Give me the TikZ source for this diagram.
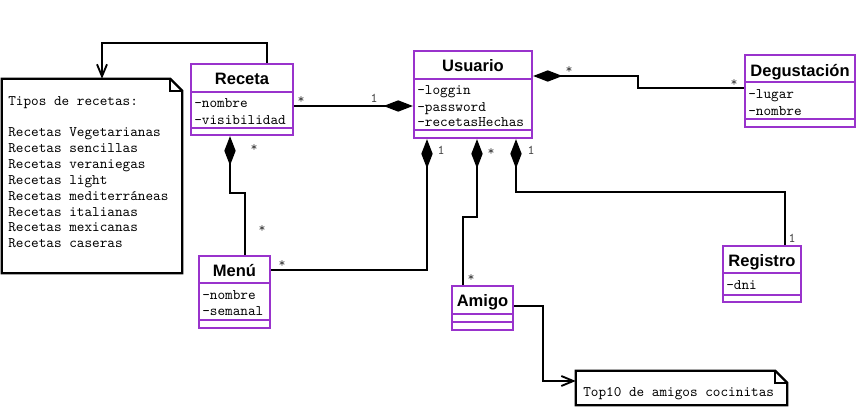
\documentclass[tikz,border=0pt]{standalone}
\usepackage{fontspec}
\setmainfont{Liberation Sans}
\usetikzlibrary{arrows.meta,fit}
\definecolor{umlpurple}{RGB}{153,51,204}
\tikzset{
  classbox/.style={draw=umlpurple, line width=1.7pt, inner sep=0pt, fill=white},
  divider/.style={draw=umlpurple, line width=1.7pt},
  ctitle/.style={font=\fontsize{12.4}{14}\selectfont\bfseries, inner sep=0pt, anchor=base},
  attr/.style={font=\ttfamily\fontsize{10.9}{12}\selectfont, inner sep=0pt, anchor=base west},
  notetext/.style={font=\ttfamily\fontsize{10.9}{12}\selectfont, inner sep=0pt, anchor=base west},
  mult/.style={font=\ttfamily\fontsize{10}{11}\selectfont, text=black!75, inner sep=0pt},
  conn/.style={line width=1.8pt, line join=miter},
  compstart/.style={conn, {Diamond[length=22pt,width=8.5pt]}-},
  compend/.style={conn, -{Diamond[length=22pt,width=8.5pt]}},
  noteref/.style={conn, -{Straight Barb[length=9pt,width=7.5pt,line width=1.4pt]}},
  notebox/.style={draw=black, line width=1.8pt, fill=white, line join=miter},
}
\begin{document}
\begin{tikzpicture}[x=0.75pt, y=-0.75pt]
\useasboundingbox (0,0) rectangle (857,407);

% ---------- note 1 ----------
\node[fit={(2,79) (182,273)}, inner sep=0pt] (note1) {};
\draw[notebox] (note1.north west) -- ([xshift=-9pt]note1.north east) -- ([yshift=-9pt]note1.north east) -- (note1.south east) -- (note1.south west) -- cycle;
\draw[line width=1.3pt] ([xshift=-9pt]note1.north east) |- ([yshift=-9pt]note1.north east);
\node[notetext] (nt0) at (8,105) {Tipos de recetas:};
\node[notetext] (nt1) at (8,136) {Recetas Vegetarianas};
\node[notetext] (nt2) at (8,152) {Recetas sencillas};
\node[notetext] (nt3) at (8,168) {Recetas veraniegas};
\node[notetext] (nt4) at (8,184) {Recetas light};
\node[notetext] (nt5) at (8,200) {Recetas mediterráneas};
\node[notetext] (nt6) at (8,216) {Recetas italianas};
\node[notetext] (nt7) at (8,231) {Recetas mexicanas};
\node[notetext] (nt8) at (8,247) {Recetas caseras};

% ---------- note 2 ----------
\node[fit={(576,371) (787,405)}, inner sep=0pt] (note2) {};
\draw[notebox] (note2.north west) -- ([xshift=-9pt]note2.north east) -- ([yshift=-9pt]note2.north east) -- (note2.south east) -- (note2.south west) -- cycle;
\draw[line width=1.3pt] ([xshift=-9pt]note2.north east) |- ([yshift=-9pt]note2.north east);
\node[notetext] (n2t) at (583,396) {Top10 de amigos cocinitas};

% ---------- classes ----------
% Receta
\node[classbox, fit={(191,64) (293,135)}] (receta) {};
\draw[divider] (191,92) -- (293,92);
\draw[divider] (191,128) -- (293,128);
\node[ctitle] (recetaT) at (242,84) {Receta};
\node[attr] (recetaA1) at (194,107) {-nombre};
\node[attr] (recetaA2) at (194,124) {-visibilidad};

% Usuario
\node[classbox, fit={(414,51) (532,138)}] (usuario) {};
\draw[divider] (414,79) -- (532,79);
\draw[divider] (414,130) -- (532,130);
\node[ctitle] (usuarioT) at (473,71) {Usuario};
\node[attr] (usuarioA1) at (417,94) {-loggin};
\node[attr] (usuarioA2) at (417,111) {-password};
\node[attr] (usuarioA3) at (417,126) {-recetasHechas};

% Degustacion
\node[classbox, fit={(745,55) (855,127)}] (degus) {};
\draw[divider] (745,82) -- (855,82);
\draw[divider] (745,119) -- (855,119);
\node[ctitle] (degusT) at (800,76) {Degustación};
\node[attr] (degusA1) at (748,98) {-lugar};
\node[attr] (degusA2) at (748,115) {-nombre};

% Menu
\node[classbox, fit={(199,256) (270,328)}] (menu) {};
\draw[divider] (199,283) -- (270,283);
\draw[divider] (199,320) -- (270,320);
\node[ctitle] (menuT) at (234.5,276) {Menú};
\node[attr] (menuA1) at (202,299) {-nombre};
\node[attr] (menuA2) at (202,315) {-semanal};

% Amigo
\node[classbox, fit={(452,286) (513,330)}] (amigo) {};
\draw[divider] (452,314) -- (513,314);
\draw[divider] (452,322) -- (513,322);
\node[ctitle] (amigoT) at (482.5,306) {Amigo};

% Registro
\node[classbox, fit={(723,246) (801,302)}] (registro) {};
\draw[divider] (723,273) -- (801,273);
\draw[divider] (723,295) -- (801,295);
\node[ctitle] (registroT) at (762,266) {Registro};
\node[attr] (registroA1) at (726,289) {-dni};

% ---------- connectors ----------
\draw[noteref] (receta.north -| 267,0) |- (102,43) -- (note1.north -| 102,0);
\draw[compend] (receta.east |- 0,106) -- (usuario.west |- 0,106);
\draw[compstart] (usuario.east |- 0,76) -- (638,76) -- (638,88) -- (degus.west |- 0,88);
\draw[compstart] (receta.south -| 230,0) -- (230,193) -- (245,193) -- (menu.north -| 245,0);
\draw[compstart] (usuario.south -| 427,0) |- (menu.east |- 0,270);
\draw[compstart] (usuario.south -| 477,0) -- (477,217) -- (463,217) -- (amigo.north -| 463,0);
\draw[compstart] (usuario.south -| 516,0) |- (785,192) -- (registro.north -| 785,0);
\draw[noteref] (amigo.east |- 0,306) -- (543,306) |- (note2.west |- 0,381);

% ---------- multiplicities ----------
\node[mult] (m1) at (301,100) {*};
\node[mult] (m2) at (374,98) {1};
\node[mult] (m3) at (569,70) {*};
\node[mult] (m4) at (734,83) {*};
\node[mult] (m5) at (254,148) {*};
\node[mult] (m6) at (262,229) {*};
\node[mult] (m7) at (282,264) {*};
\node[mult] (m8) at (441,150) {1};
\node[mult] (m9) at (491,152) {*};
\node[mult] (m10) at (471,278) {*};
\node[mult] (m11) at (531,150) {1};
\node[mult] (m12) at (792,238) {1};
\end{tikzpicture}
\end{document}
